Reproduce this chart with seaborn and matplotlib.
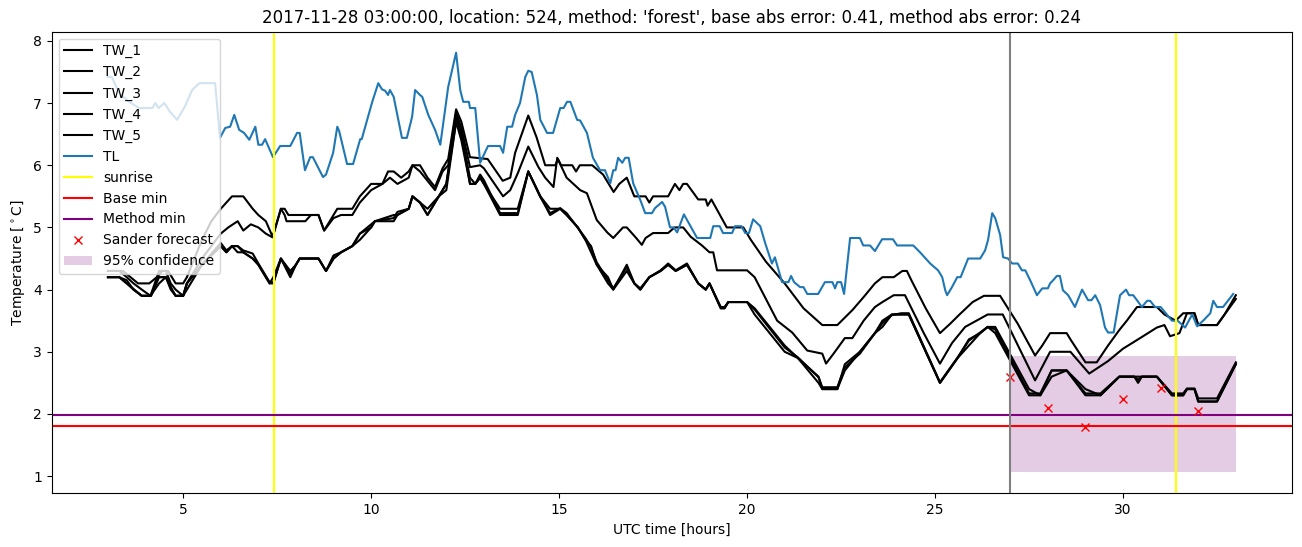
import matplotlib
matplotlib.use("Agg")
import matplotlib.pyplot as plt
import seaborn as sns
import numpy as np

# ---------------- data ----------------
tw_upper = [(3.0,4.3),(3.4,4.3),(3.6,4.2),(3.8,4.1),(4.1,4.1),(4.3,4.2),(4.45,4.3),(4.6,4.3),(4.8,4.1),(5.0,4.1),
            (5.1,4.2),(5.5,4.8),(5.75,5.1),(6.0,5.3),(6.3,5.5),(6.6,5.5),(6.85,5.3),(7.0,5.2),(7.2,5.1),(7.38,4.85),
            (7.6,5.3),(7.7,5.3),(7.8,5.2),(8.6,5.2),(8.75,4.95),(9.0,5.2),(9.1,5.3),(9.5,5.3),(9.7,5.5),(10.0,5.7),
            (10.3,5.7),(10.45,5.9),(10.6,5.9),(10.8,5.8),(11.0,5.9),(11.1,6.0),(11.3,6.0),(11.5,5.8),(11.7,5.65),(11.9,5.95),
            (12.05,6.1),(12.26,6.9),(12.4,6.7),(12.63,6.13),(13.1,6.1),(13.5,5.75),(13.7,5.8),(13.83,6.2),(14.18,6.8),(14.4,6.45),
            (14.63,6.0),(14.9,6.0),(14.97,6.1),(15.05,6.0),(15.35,6.0),(15.45,5.9),(15.55,6.0),(15.88,6.0),(16.17,5.85),(16.45,5.57),
            (16.6,5.7),(16.8,5.8),(17.0,5.5),(17.3,5.5),(17.4,5.4),(17.5,5.5),(17.9,5.5),(18.08,5.7),(18.2,5.6),(18.3,5.7),
            (18.4,5.7),(18.7,5.45),(18.9,5.45),(18.95,5.35),(19.05,5.45),(19.46,5.0),(19.9,5.0),(20.1,4.8),(20.5,4.45),(21.0,4.1),
            (21.5,3.7),(22.0,3.43),(22.4,3.43),(22.8,3.67),(23.1,3.88),(23.4,4.1),(23.6,4.2),(23.9,4.2),(24.13,4.3),(24.25,4.3),
            (24.37,4.15),(24.75,3.7),(25.13,3.3),(25.4,3.45),(25.65,3.6),(26.0,3.8),(26.3,3.9),(26.73,3.9),(27.2,3.45),(27.66,2.94),
            (27.85,3.1),(28.06,3.3),(28.5,3.3),(28.6,3.2),(29.0,2.83),(29.3,2.83),(29.6,3.1),(29.9,3.35),(30.1,3.5),(30.37,3.72),
            (30.9,3.72),(31.1,3.6),(31.4,3.5),(31.6,3.62),(31.9,3.62),(32.0,3.43),(32.5,3.43),(32.7,3.6),(33.0,3.91)]

tw_middle = [(3.0,4.2),(3.3,4.2),(3.5,4.1),(3.7,4.0),(3.9,3.9),(4.15,3.9),(4.35,4.2),(4.55,4.2),(4.7,4.0),(4.8,3.9),
             (5.0,3.9),(5.1,4.1),(5.5,4.5),(6.0,4.9),(6.2,5.0),(6.45,5.1),(6.6,4.95),(6.8,5.05),(7.0,5.0),(7.2,4.9),
             (7.38,4.84),(7.6,5.3),(7.7,5.2),(7.75,5.1),(8.25,5.1),(8.4,5.2),(8.6,5.2),(8.75,4.95),(9.0,5.15),(9.2,5.2),
             (9.5,5.2),(9.7,5.4),(10.0,5.6),(10.3,5.7),(10.5,5.8),(10.7,5.7),(11.0,5.8),(11.1,6.0),(11.3,5.9),(11.5,5.75),
             (11.7,5.6),(11.9,5.9),(12.05,6.0),(12.26,6.85),(12.4,6.6),(12.63,5.97),(12.9,6.0),(13.0,5.95),(13.51,5.5),(13.7,5.6),
             (13.9,5.87),(14.18,6.3),(14.45,5.97),(14.63,5.8),(14.85,5.65),(14.95,6.12),(15.2,5.8),(15.56,5.6),(15.74,5.55),(16.0,5.12),
             (16.28,4.92),(16.44,4.83),(16.7,5.0),(16.8,5.0),(17.05,4.83),(17.2,4.72),(17.3,4.83),(17.5,4.91),(17.9,4.91),(18.07,5.0),
             (18.3,5.0),(18.5,4.85),(18.8,4.71),(19.0,4.6),(19.1,4.6),(19.2,4.31),(20.0,4.31),(20.2,4.2),(20.8,3.5),(21.2,3.31),
             (21.6,3.02),(22.0,2.97),(22.1,2.81),(22.3,2.97),(22.6,3.22),(22.8,3.22),(23.1,3.5),(23.4,3.72),(23.6,3.8),(23.9,3.91),
             (24.2,3.91),(24.7,3.3),(25.13,2.81),(25.45,3.14),(25.8,3.4),(26.1,3.5),(26.4,3.6),(26.8,3.6),(27.66,2.54),(28.06,3.0),
             (28.6,3.0),(29.1,2.65),(29.6,2.85),(30.0,3.05),(30.4,3.2),(30.9,3.39),(31.1,3.43),(31.25,3.25),(31.5,3.3),(31.7,3.62),
             (31.9,3.62),(32.0,3.43),(32.5,3.43),(33.0,3.85)]

tw_low_hours = [3.0,3.3,3.5,3.68,3.9,4.13,4.36,4.54,4.67,4.8,
                5.0,5.1,5.5,6.0,6.15,6.3,6.45,6.6,6.85,7.0,
                7.3,7.4,7.6,7.85,8.0,8.1,8.6,8.8,9.0,9.2,
                9.5,9.7,10.0,10.1,10.6,10.7,11.0,11.1,11.3,11.5,
                11.8,12.0,12.26,12.4,12.63,12.77,12.9,13.0,13.43,13.9,
                14.18,14.5,14.76,15.03,15.2,15.5,15.7,15.85,16.0,16.3,
                16.44,16.8,17.0,17.16,17.4,17.7,17.9,18.1,18.4,18.7,
                18.9,19.0,19.3,19.4,19.5,20.0,20.2,21.0,21.35,21.9,
                22.0,22.4,22.6,23.0,23.4,23.6,23.85,24.1,24.3,25.13,
                25.6,25.9,26.2,26.4,26.6,27.5,27.8,28.1,28.5,29.0,
                29.4,29.9,30.3,30.4,30.5,30.9,31.3,31.6,31.7,31.9,
                32.0,32.5,33.0]
tw_low_a = [4.2,4.2,4.15,4.0,3.9,3.9,4.2,4.2,4.04,3.9,
            3.9,4.1,4.4,4.75,4.63,4.7,4.7,4.63,4.58,4.42,
            4.12,4.12,4.5,4.25,4.4,4.5,4.5,4.3,4.55,4.6,
            4.7,4.9,5.05,5.1,5.15,5.25,5.3,5.5,5.4,5.2,
            5.5,5.7,6.8,6.5,5.8,5.7,5.85,5.76,5.23,5.23,
            5.9,5.49,5.23,5.31,5.23,4.99,4.83,4.68,4.44,4.15,
            4.02,4.36,4.1,4.02,4.2,4.31,4.42,4.31,4.42,4.1,
            4.0,4.1,3.72,3.72,3.8,3.8,3.68,3.07,2.91,2.59,
            2.43,2.43,2.75,2.97,3.3,3.46,3.59,3.62,3.62,2.51,
            2.91,3.18,3.31,3.4,3.36,2.33,2.33,2.7,2.7,2.33,
            2.33,2.6,2.6,2.55,2.6,2.6,2.33,2.33,2.41,2.41,
            2.25,2.25,2.83]
tw_low_b = [4.3,4.3,4.2,4.1,4.0,3.9,4.3,4.3,4.1,4.0,
            3.9,4.0,4.4,4.7,4.6,4.7,4.7,4.6,4.5,4.4,
            4.1,4.2,4.5,4.3,4.4,4.5,4.5,4.3,4.5,4.6,
            4.7,4.8,5.0,5.1,5.2,5.2,5.3,5.5,5.4,5.3,
            5.5,5.7,6.7,6.4,5.7,5.7,5.8,5.7,5.3,5.3,
            5.9,5.5,5.3,5.3,5.2,5.0,4.8,4.7,4.4,4.2,
            4.0,4.4,4.1,4.0,4.2,4.3,4.4,4.3,4.4,4.1,
            4.0,4.1,3.7,3.7,3.8,3.8,3.7,3.1,2.9,2.6,
            2.4,2.4,2.7,3.0,3.3,3.5,3.6,3.6,3.6,2.5,
            2.9,3.2,3.3,3.4,3.4,2.4,2.3,2.6,2.7,2.4,
            2.3,2.6,2.6,2.5,2.6,2.6,2.3,2.3,2.4,2.4,
            2.2,2.2,2.8]
tw_low_c = [4.2,4.2,4.1,4.0,3.9,3.9,4.1,4.2,4.0,3.9,
            3.9,4.1,4.4,4.7,4.6,4.7,4.6,4.6,4.5,4.4,
            4.1,4.1,4.5,4.2,4.4,4.5,4.5,4.3,4.5,4.6,
            4.7,4.9,5.0,5.1,5.1,5.2,5.3,5.5,5.4,5.2,
            5.5,5.6,6.7,6.5,5.7,5.7,5.8,5.7,5.2,5.2,
            5.9,5.5,5.2,5.3,5.2,5.0,4.8,4.6,4.4,4.1,
            4.0,4.3,4.1,4.0,4.2,4.3,4.4,4.3,4.4,4.1,
            4.0,4.1,3.7,3.7,3.8,3.8,3.6,3.0,2.9,2.5,
            2.4,2.4,2.8,3.0,3.3,3.4,3.6,3.6,3.6,2.5,
            2.9,3.1,3.3,3.4,3.3,2.3,2.3,2.7,2.7,2.3,
            2.3,2.6,2.6,2.6,2.6,2.6,2.3,2.3,2.4,2.4,
            2.2,2.2,2.8]

tl = [(3.0,7.42),(3.1,7.42),(3.3,7.16),(3.56,7.02),(3.83,6.92),(4.18,6.92),(4.26,7.0),(4.35,6.92),(4.5,7.0),(4.65,6.86),
      (4.84,6.73),(5.05,6.95),(5.24,7.21),(5.43,7.32),(5.85,7.32),(5.98,6.44),(6.12,6.6),(6.25,6.62),(6.36,6.81),(6.49,6.57),
      (6.62,6.52),(6.76,6.41),(6.92,6.62),(7.0,6.33),(7.1,6.33),(7.18,6.42),(7.39,6.13),(7.58,6.31),(7.85,6.31),(8.03,6.52),
      (8.1,6.52),(8.24,5.92),(8.38,6.13),(8.45,6.13),(8.72,5.81),(8.8,5.85),(8.99,6.2),(9.1,6.62),(9.15,6.55),(9.36,6.02),
      (9.52,6.02),(9.71,6.42),(9.75,6.42),(10.03,7.02),(10.19,7.32),(10.29,7.22),(10.37,7.2),(10.45,7.13),(10.5,7.21),(10.6,7.1),
      (10.82,6.44),(10.95,6.44),(11.09,6.78),(11.17,7.21),(11.3,7.13),(11.36,7.1),(11.52,6.81),(11.7,6.57),(11.84,6.33),(12.05,7.26),
      (12.26,7.81),(12.37,7.21),(12.45,7.02),(12.6,7.02),(12.63,6.92),(12.77,6.92),(12.9,6.04),(13.03,6.21),(13.11,6.31),(13.43,6.31),
      (13.51,6.2),(13.62,6.62),(13.75,6.62),(13.83,6.81),(13.96,7.0),(14.1,7.42),(14.18,7.52),(14.27,7.5),(14.41,7.13),(14.5,6.73),
      (14.68,6.52),(14.84,6.52),(15.03,6.92),(15.12,6.92),(15.21,7.02),(15.3,7.02),(15.48,6.73),(15.56,6.72),(15.74,6.52),(15.9,6.12),
      (16.09,5.92),(16.22,5.92),(16.36,5.71),(16.44,5.92),(16.5,5.92),(16.57,6.12),(16.68,6.04),(16.76,6.12),(16.85,6.12),(16.97,5.71),
      (17.16,5.44),(17.29,5.23),(17.47,5.23),(17.55,5.31),(17.74,5.41),(17.82,5.33),(17.95,5.0),(18.05,5.0),(18.14,4.92),(18.32,5.21),
      (18.45,5.07),(18.67,4.83),(19.02,4.83),(19.1,5.02),(19.27,5.02),(19.36,4.91),(19.6,4.91),(19.68,5.02),(19.85,5.02),(19.95,4.91),
      (20.05,4.91),(20.16,5.13),(20.35,5.02),(20.48,4.75),(20.66,4.42),(20.74,4.52),(20.93,4.12),(21.1,4.12),(21.17,4.22),(21.25,4.12),
      (21.41,4.04),(21.5,4.04),(21.6,3.93),(21.89,3.93),(22.07,4.12),(22.27,4.12),(22.34,4.02),(22.4,4.12),(22.5,4.12),(22.58,3.93),
      (22.74,4.83),(22.87,4.83),(23.0,4.83),(23.09,4.71),(23.27,4.71),(23.4,4.62),(23.59,4.81),(23.88,4.81),(23.99,4.71),(24.42,4.71),
      (24.6,4.6),(24.75,4.5),(24.87,4.42),(25.08,4.31),(25.19,4.2),(25.27,3.99),(25.32,3.91),(25.45,4.04),(25.59,4.2),(25.68,4.2),
      (25.88,4.5),(26.2,4.5),(26.33,4.63),(26.41,4.8),(26.52,5.23),(26.6,5.15),(26.73,4.88),(26.81,4.52),(26.94,4.5),(27.05,4.42),
      (27.2,4.42),(27.31,4.31),(27.4,4.31),(27.53,4.15),(27.71,3.91),(27.85,4.02),(28.0,4.02),(28.06,4.1),(28.14,4.15),(28.24,4.22),
      (28.32,4.22),(28.4,3.99),(28.54,3.91),(28.72,3.72),(28.91,4.0),(29.07,3.83),(29.16,3.83),(29.26,3.91),(29.39,3.75),(29.52,3.39),
      (29.6,3.31),(29.75,3.31),(29.92,3.91),(30.08,4.0),(30.16,3.91),(30.27,3.91),(30.37,3.83),(30.5,3.72),(30.64,3.82),(30.72,3.82),
      (30.85,3.72),(31.0,3.72),(31.3,3.5),(31.45,3.5),(31.65,3.39),(31.84,3.6),(31.97,3.41),(32.13,3.5),(32.32,3.62),(32.4,3.82),
      (32.5,3.72),(32.66,3.72),(32.8,3.83),(32.93,3.93)]

sunrise_hours = [7.42, 31.41]
forecast_start = 27.0
base_min = 1.80
method_min = 1.98
sander_hours = [27, 28, 29, 30, 31, 32]
sander_temps = [2.59, 2.10, 1.79, 2.24, 2.41, 2.05]
conf_hours = [27, 28, 29, 30, 31, 32, 33]
conf_lower = [1.06, 1.06, 1.06, 1.06, 1.06, 1.06, 1.06]
conf_upper = [2.94, 2.94, 2.94, 2.94, 2.94, 2.94, 2.94]

title = "2017-11-28 03:00:00, location: 524, method: 'forest', base abs error: 0.41, method abs error: 0.24"

# ---------------- plot ----------------
fig, ax = plt.subplots(figsize=(13.02, 5.47), dpi=100)
fig.subplots_adjust(left=0.0396, right=0.9925, bottom=0.098, top=0.942)

tw_series = [
    ("TW_1", [p[0] for p in tw_upper], [p[1] for p in tw_upper]),
    ("TW_2", [p[0] for p in tw_middle], [p[1] for p in tw_middle]),
    ("TW_3", tw_low_hours, tw_low_a),
    ("TW_4", tw_low_hours, tw_low_b),
    ("TW_5", tw_low_hours, tw_low_c),
]
for name, xs, ys in tw_series:
    sns.lineplot(x=xs, y=ys, color="black", label=name, ax=ax,
                 estimator=None, sort=False, linewidth=1.5)

sns.lineplot(x=[p[0] for p in tl], y=[p[1] for p in tl], color="#1f77b4", label="TL",
             ax=ax, estimator=None, sort=False, linewidth=1.5)

for i, h in enumerate(sunrise_hours):
    ax.axvline(h, color="yellow", linewidth=1.5, label="sunrise" if i == 0 else None)
ax.axhline(base_min, color="red", linewidth=1.5, label="Base min")
ax.axhline(method_min, color="purple", linewidth=1.5, label="Method min")

sns.lineplot(x=sander_hours, y=sander_temps, ax=ax, label="Sander forecast",
             estimator=None, sort=False, linestyle="none", marker="x",
             markersize=6, mec="red", mew=1.0, color="red")

ax.fill_between(conf_hours, conf_lower, conf_upper, color="purple", alpha=0.2,
                linewidth=0, label="95% confidence")
ax.axvline(forecast_start, color="gray", linewidth=1.5)

ax.set_title(title, fontsize=12)
ax.set_xlabel("UTC time [hours]")
ax.set_ylabel(r"Temperature [$^\circ$C]")
ax.legend(loc="upper left")

fig.savefig("out.png", dpi=100)
